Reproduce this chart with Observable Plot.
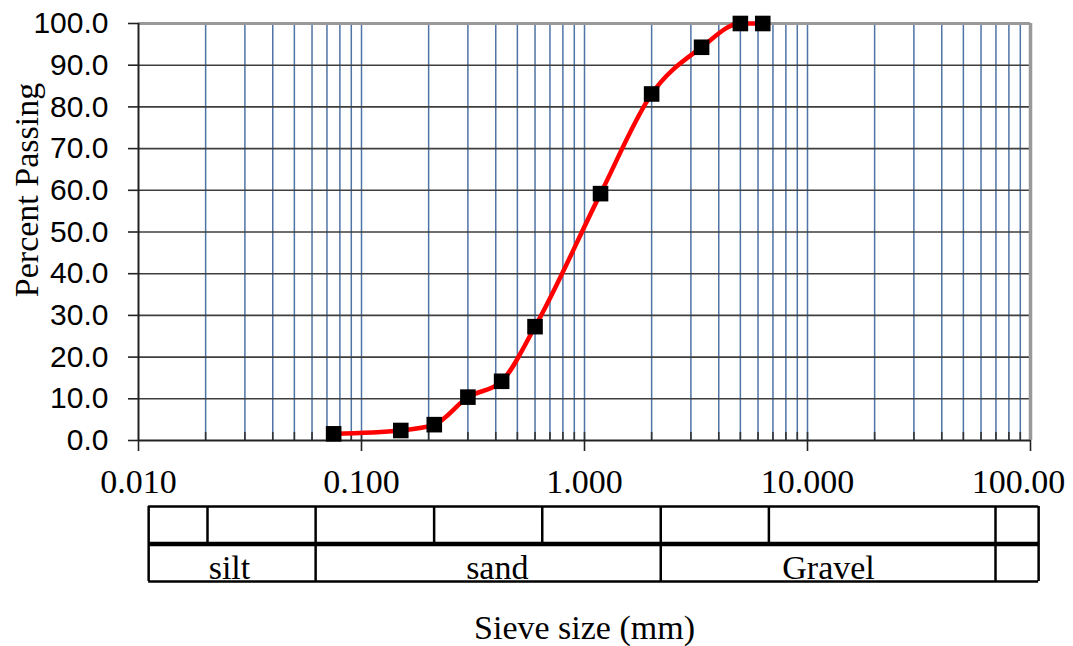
<!DOCTYPE html>
<html>
<head>
<meta charset="utf-8">
<script src="https://cdn.jsdelivr.net/npm/d3@7"></script>
<script src="https://cdn.jsdelivr.net/npm/@observablehq/plot@0.6"></script>
<style>
  html, body { margin: 0; padding: 0; background: #fff; overflow: hidden; }
  #wrap { position: relative; width: 1073px; height: 646px; background: #fff; overflow: hidden; }
  #wrap svg { display: block; }
</style>
</head>
<body>
<div id="wrap"></div>
<script>
// ---- data ----
const sieveSizes = [0.075, 0.15, 0.212, 0.3, 0.425, 0.6, 1.18, 2.0, 3.35, 5.0, 6.3];
const percentPassing = [1.6, 2.4, 3.8, 10.4, 14.2, 27.3, 59.2, 83.1, 94.3, 100.0, 100.0];

const yTicks = [0, 10, 20, 30, 40, 50, 60, 70, 80, 90, 100];
const yGrid = [10, 20, 30, 40, 50, 60, 70, 80, 90];
const xMajorTicks = [0.01, 0.1, 1, 10, 100];
const xTickLabels = ["0.010", "0.100", "1.000", "10.000", "100.00"];
const xMinorTicks = [
  0.02, 0.03, 0.04, 0.05, 0.06, 0.07, 0.08, 0.09, 0.1,
  0.2, 0.3, 0.4, 0.5, 0.6, 0.7, 0.8, 0.9, 1,
  2, 3, 4, 5, 6, 7, 8, 9, 10,
  20, 30, 40, 50, 60, 70, 80, 90
];

// classification table (mm)
const tableEdges = [0.011, 93];
const fullDividers = [0.06, 2, 60];
const topRowDividers = [0.02, 0.2, 0.6, 6];
const classNames = ["silt", "sand", "Gravel"];
const classLabelAt = [0.025, 0.38, 11];

const points = sieveSizes.map((s, i) => ({size: s, passing: percentPassing[i]}));
const classes = classNames.map((n, i) => ({name: n, at: classLabelAt[i]}));
const xLabelOf = new Map(xMajorTicks.map((t, i) => [t, xTickLabels[i]]));

const serif = "'Liberation Serif', 'Times New Roman', 'DejaVu Serif', serif";
const sans = "'Liberation Sans', Arial, 'DejaVu Sans', sans-serif";

// ---- main chart ----
const chart = Plot.plot({
  width: 1073,
  height: 500,
  marginLeft: 138,
  marginRight: 43,
  marginTop: 23,
  marginBottom: 60,
  style: {fontFamily: serif, fontSize: "34px", background: "transparent", overflow: "visible"},
  x: {type: "log", domain: [0.01, 100]},
  y: {domain: [0, 100]},
  marks: [
    Plot.ruleX(xMinorTicks, {stroke: "#4f74a6", strokeWidth: 1.5}),
    Plot.ruleY(yGrid, {stroke: "#3e3e3e", strokeWidth: 1.6}),
    Plot.ruleY([100], {stroke: "#999", strokeWidth: 3}),
    Plot.ruleX([100], {stroke: "#999", strokeWidth: 3.5}),
    Plot.ruleX(xMinorTicks.filter(d => d < 100), {stroke: "#333", strokeWidth: 1.6, insetTop: 409}),
    Plot.ruleX([0.01], {stroke: "#222", strokeWidth: 2}),
    Plot.ruleY([0], {stroke: "#222", strokeWidth: 2}),
    Plot.axisY({
      ticks: yTicks,
      tickSize: 10,
      tickPadding: 20,
      tickFormat: d3.format(".1f"),
      fontFamily: sans,
      fontSize: 30,
      stroke: "#222",
      strokeWidth: 1.6,
      fill: "#000",
      label: null
    }),
    // major ticks (all five) and labels for the first four
    Plot.axisX({
      ticks: xMajorTicks,
      tickSize: 11,
      tickPadding: 17,
      tickFormat: d => (d < 100 ? xLabelOf.get(d) : ""),
      fontFamily: serif,
      fontSize: 34,
      stroke: "#222",
      strokeWidth: 1.6,
      fill: "#000",
      label: null
    }),
    // last label, pulled in to fit the edge as in the original
    Plot.axisX({
      ticks: xMajorTicks.slice(-1),
      tickSize: 0,
      tickPadding: 28,
      tickFormat: d => xLabelOf.get(d),
      dx: -12,
      fontFamily: serif,
      fontSize: 34,
      fill: "#000",
      label: null
    }),
    Plot.text(["Percent Passing"], {
      frameAnchor: "left",
      rotate: -90,
      dx: -101,
      dy: -42,
      lineAnchor: "bottom",
      textAnchor: "middle",
      fontFamily: serif,
      fontSize: 34,
      fill: "#000"
    }),
    Plot.line(points, {x: "size", y: "passing", stroke: "#ff0000", strokeWidth: 4.5, curve: "monotone-x"}),
    Plot.dot(points, {x: "size", y: "passing", symbol: "square", r: 8.8, fill: "#000", stroke: "none"})
  ]
});

// ---- classification table + x label ----
const table = Plot.plot({
  width: 1073,
  height: 146,
  marginLeft: 138,
  marginRight: 43,
  marginTop: 0,
  marginBottom: 0,
  style: {fontFamily: serif, fontSize: "34px", background: "transparent", overflow: "visible"},
  x: {type: "log", domain: [0.02, 60], range: [207, 995], axis: null},
  y: {domain: [0, 2], range: [6, 81], axis: null},
  marks: [
    Plot.ruleY([0, 2], {x1: tableEdges[0], x2: tableEdges[1], stroke: "#000", strokeWidth: 2.5}),
    Plot.ruleY([1], {x1: tableEdges[0], x2: tableEdges[1], stroke: "#000", strokeWidth: 4.5}),
    Plot.ruleX(tableEdges.concat(fullDividers), {y1: 0, y2: 2, stroke: "#000", strokeWidth: 2.5}),
    Plot.ruleX(topRowDividers, {y1: 0, y2: 1, stroke: "#000", strokeWidth: 2.5}),
    Plot.text(classes, {
      x: "at", y: () => 2, text: "name",
      lineAnchor: "bottom", dy: -3,
      fontFamily: serif, fontSize: 34, fill: "#000"
    }),
    Plot.text(["Sieve size (mm)"], {
      frameAnchor: "bottom",
      lineAnchor: "bottom",
      dy: -8,
      fontFamily: serif,
      fontSize: 34,
      fill: "#000"
    })
  ]
});

const wrap = document.getElementById("wrap");
wrap.appendChild(chart);
wrap.appendChild(table);
</script>
</body>
</html>
